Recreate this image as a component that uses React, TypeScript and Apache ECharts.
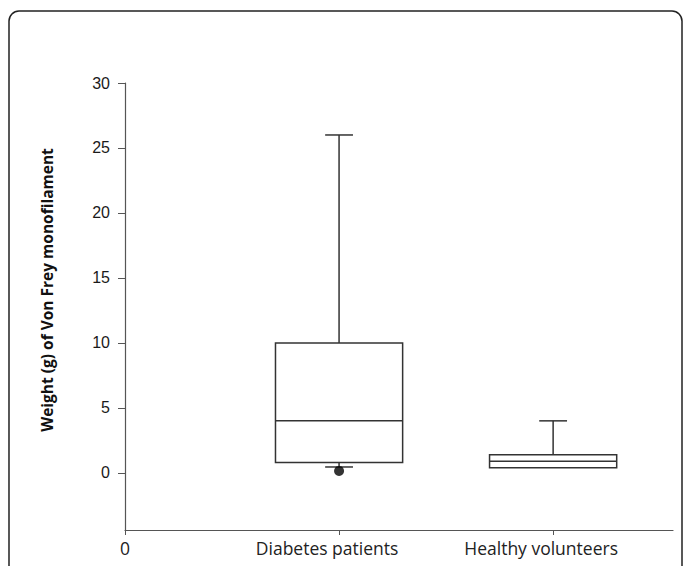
import React, { useEffect, useRef } from "react";
import * as echarts from "echarts";

const categories = ["Diabetes patients", "Healthy volunteers"];
const lowerWhisker = [0.45, 0.4];
const q1 = [0.8, 0.4];
const median = [4, 0.9];
const q3 = [10, 1.4];
const upperWhisker = [26, 4];
const outliers: [number, number][] = [[1, 0.15]];
const yTicks = [0, 5, 10, 15, 20, 25, 30];
const xTicks = [0, 1, 2];
const yAxisTitle = "Weight (g) of Von Frey monofilament";

export default function App() {
  const ref = useRef<HTMLDivElement>(null);
  useEffect(() => {
    if (!ref.current) return;
    const chart = echarts.init(ref.current, undefined, { renderer: "svg" });
    const boxData = categories.map((_, i) => [
      i + 1,
      lowerWhisker[i],
      q1[i],
      median[i],
      q3[i],
      upperWhisker[i],
    ]);
    const boxHalf = 0.297;
    const capHalf = 0.065;
    const lineStyle = { stroke: "#333", lineWidth: 1.5, fill: "none" };
    chart.setOption({
      animation: false,
      backgroundColor: "#fff",
      grid: { left: 125, right: 10, top: 83, bottom: 36, containLabel: false },
      xAxis: {
        type: "value",
        min: 0,
        max: 2.56,
        splitLine: { show: false },
        axisLine: { show: true, onZero: false, lineStyle: { color: "#555", width: 1.2 } },
        axisTick: {
          show: true,
          customValues: xTicks,
          length: 5,
          lineStyle: { color: "#555" },
        },
        axisLabel: {
          customValues: xTicks,
          margin: 9,
          color: "#222",
          fontFamily: "Open Sans",
          fontSize: 17.5,
          formatter: (v: number) =>
            v === 0 ? "{z|0}" : `{c|${categories[v - 1] ?? ""}}`,
          rich: {
            z: { fontFamily: "Open Sans", fontSize: 17.5, color: "#222" },
            c: {
              fontFamily: "Open Sans",
              fontSize: 17.5,
              color: "#222",
              padding: [0, 24, 0, 0],
            },
          },
        },
      },
      yAxis: {
        type: "value",
        min: -4.4,
        max: 30,
        splitLine: { show: false },
        axisLine: { show: true, onZero: false, lineStyle: { color: "#555", width: 1.2 } },
        axisTick: {
          show: true,
          customValues: yTicks,
          length: 7,
          lineStyle: { color: "#555" },
        },
        axisLabel: {
          customValues: yTicks,
          margin: 15,
          color: "#1a1a1a",
          fontFamily: "Liberation Sans",
          fontSize: 16,
        },
      },
      graphic: [
        {
          type: "rect",
          silent: true,
          shape: { x: 9, y: 11, width: 673, height: 620, r: 10 },
          style: { fill: "none", stroke: "#222", lineWidth: 1.5 },
        },
        {
          type: "text",
          silent: true,
          x: 47,
          y: 290,
          rotation: Math.PI / 2,
          style: {
            text: yAxisTitle,
            fontFamily: "Open Sans",
            fontWeight: "bold",
            fontSize: 15.5,
            fill: "#111",
            align: "center",
            verticalAlign: "middle",
          },
        },
      ],
      series: [
        {
          type: "custom",
          data: boxData,
          encode: { x: 0, y: [1, 2, 3, 4, 5] },
          renderItem: (params: any, api: any) => {
            const x = api.value(0);
            const lo = api.value(1);
            const a = api.value(2);
            const m = api.value(3);
            const b = api.value(4);
            const hi = api.value(5);
            const pL = api.coord([x - boxHalf, b]);
            const pR = api.coord([x + boxHalf, a]);
            const pm = api.coord([x, m]);
            const pmL = api.coord([x - boxHalf, m]);
            const pmR = api.coord([x + boxHalf, m]);
            const pHi = api.coord([x, hi]);
            const pB = api.coord([x, b]);
            const pA = api.coord([x, a]);
            const pLo = api.coord([x, lo]);
            const capL = api.coord([x - capHalf, 0])[0];
            const capR = api.coord([x + capHalf, 0])[0];
            const children: any[] = [
              {
                type: "rect",
                shape: {
                  x: pL[0],
                  y: pL[1],
                  width: pR[0] - pL[0],
                  height: pR[1] - pL[1],
                },
                style: lineStyle,
              },
              {
                type: "line",
                shape: { x1: pmL[0], y1: pm[1], x2: pmR[0], y2: pm[1] },
                style: lineStyle,
              },
            ];
            if (hi > b) {
              children.push(
                {
                  type: "line",
                  shape: { x1: pB[0], y1: pB[1], x2: pHi[0], y2: pHi[1] },
                  style: lineStyle,
                },
                {
                  type: "line",
                  shape: { x1: capL, y1: pHi[1], x2: capR, y2: pHi[1] },
                  style: lineStyle,
                }
              );
            }
            if (lo < a) {
              children.push(
                {
                  type: "line",
                  shape: { x1: pA[0], y1: pA[1], x2: pLo[0], y2: pLo[1] },
                  style: lineStyle,
                },
                {
                  type: "line",
                  shape: { x1: capL, y1: pLo[1], x2: capR, y2: pLo[1] },
                  style: lineStyle,
                }
              );
            }
            return { type: "group", children };
          },
        },
        {
          type: "scatter",
          data: outliers,
          symbol: "circle",
          symbolSize: 10,
          itemStyle: { color: "#000" },
          z: 5,
        },
      ],
    });
    return () => chart.dispose();
  }, []);
  return (
    <div
      ref={ref}
      style={{ position: "fixed", left: 0, top: 0, width: 683, height: 566 }}
    />
  );
}
